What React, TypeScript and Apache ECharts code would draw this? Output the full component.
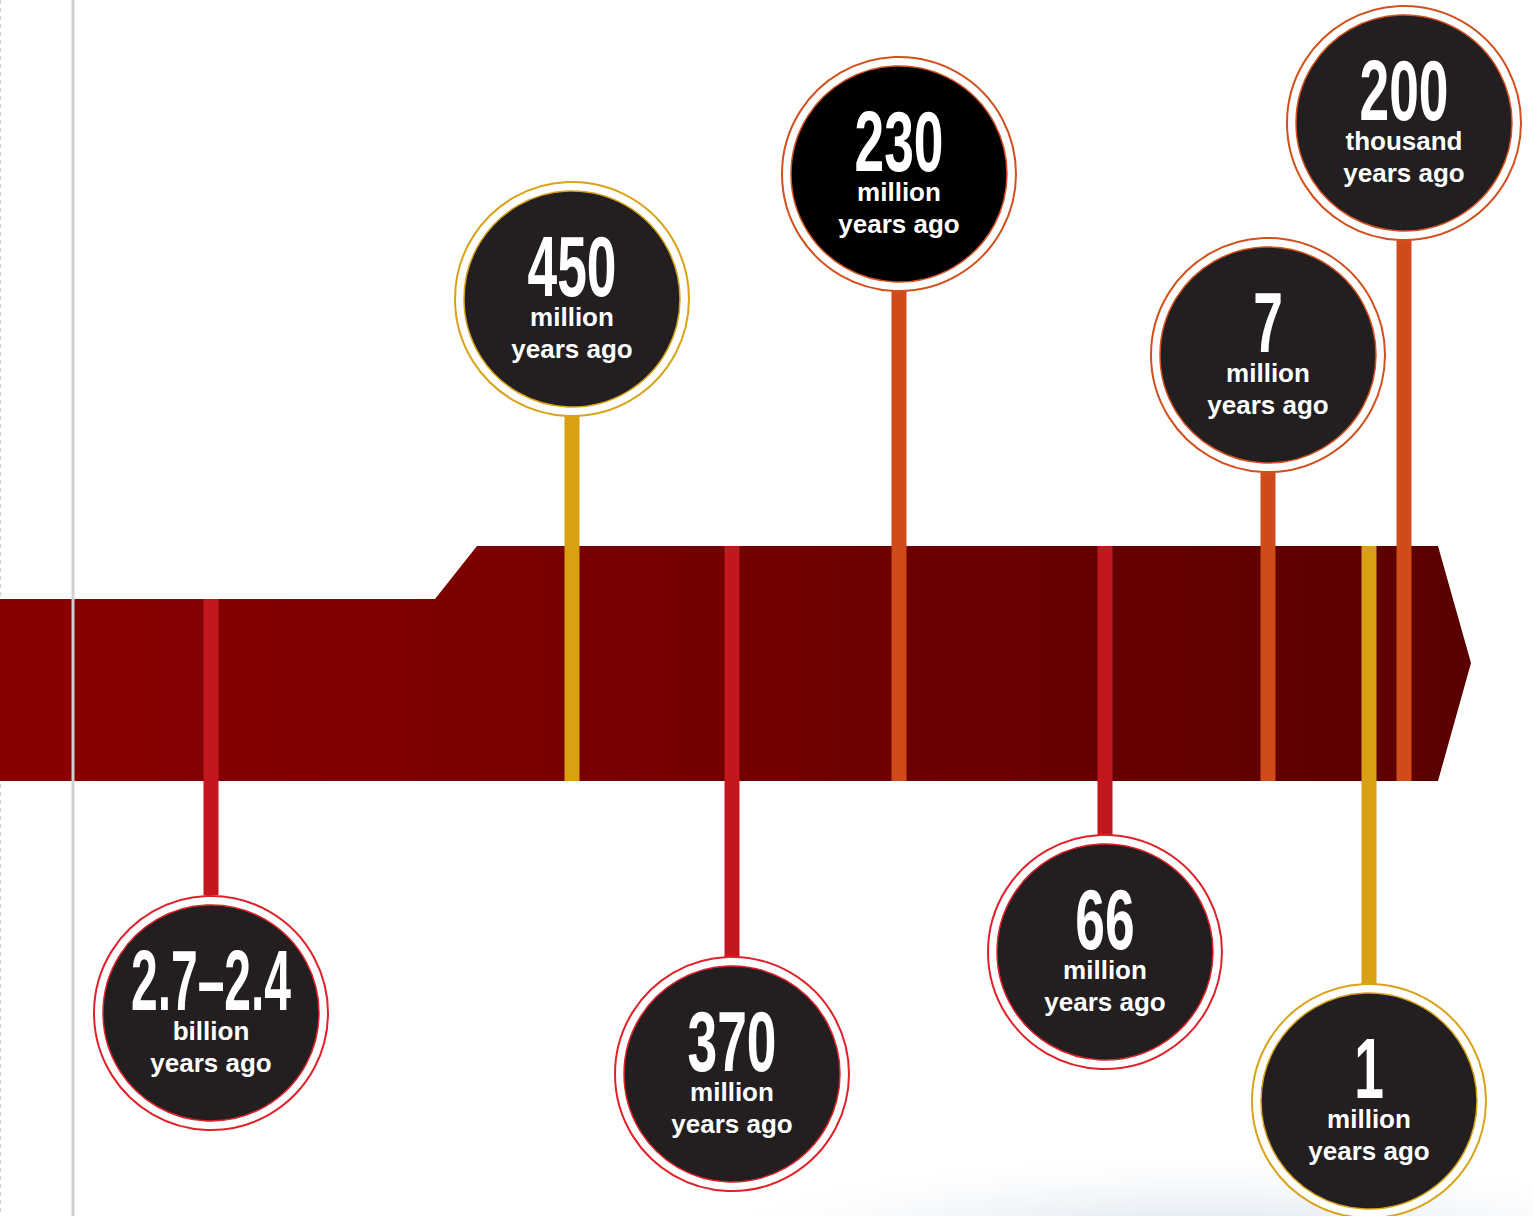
import React, { useEffect, useRef } from "react";
import * as echarts from "echarts";

// ---- data ----
const eventLabels = ["2.7–2.4", "450", "370", "230", "66", "7", "1", "200"];
const eventUnits = ["billion", "million", "million", "million", "million", "million", "million", "thousand"];
const eventX = [211, 572, 732, 899, 1105, 1268, 1369, 1404];
const circleY = [1013, 299, 1074, 174, 952, 355, 1101, 123];
const stemTop = [599, 416, 546, 291, 546, 471, 546, 240];
const stemBottom = [895, 781, 957, 781, 835, 781, 985, 781];
const eventTone = ["red", "gold", "red", "orange", "red", "orange", "gold", "orange"];
const barOutline = [
  [0, 599],
  [435, 599],
  [477, 546],
  [1438, 546],
  [1471, 663],
  [1438, 781],
  [0, 781],
];
const guideLineX = [73];

// ---- styles ----
const ringColor: Record<string, string> = { red: "#e0222a", gold: "#d9a31a", orange: "#d3511f" };
const stemColor: Record<string, string> = { red: "#c3161d", gold: "#d8a012", orange: "#cf4b1c" };
const W = 1534;
const H = 1216;
const OUTER_R = 117;
const INNER_R = 108;
const BIG_FONT = 86;
const BIG_FAMILY = '"Liberation Sans", Arial, sans-serif';

let measureCtx: CanvasRenderingContext2D | null = null;
function bigScale(text: string) {
  if (!measureCtx) measureCtx = document.createElement("canvas").getContext("2d");
  if (!measureCtx) return 0.62;
  measureCtx.font = `bold ${BIG_FONT}px ${BIG_FAMILY}`;
  const w = measureCtx.measureText(text).width;
  return Math.min(0.62, 160 / w);
}

export default function App() {
  const ref = useRef<HTMLDivElement>(null);
  useEffect(() => {
    if (!ref.current) return;
    const chart = echarts.init(ref.current, undefined, { renderer: "svg" });
    const option: any = {
      animation: false,
      backgroundColor: "#ffffff",
      grid: { left: 0, right: 0, top: 0, bottom: 0 },
      xAxis: { type: "value", min: 0, max: W, show: false },
      yAxis: { type: "value", min: 0, max: H, inverse: true, show: false },
      graphic: [
        {
          type: "line",
          z: 0,
          shape: { x1: 0.5, y1: 0, x2: 0.5, y2: H },
          style: { stroke: "#cfcfcf", lineWidth: 1, lineDash: [4, 4] },
        },
        {
          type: "ellipse",
          z: 0,
          shape: { cx: 1200, cy: 1245, rx: 480, ry: 85 },
          style: {
            fill: new echarts.graphic.RadialGradient(0.5, 0.5, 0.5, [
              { offset: 0, color: "rgba(200,216,232,0.85)" },
              { offset: 1, color: "rgba(230,238,245,0)" },
            ]),
          },
        },
      ],
      series: [
        {
          type: "custom",
          name: "timeline",
          z: 2,
          silent: true,
          data: [[0]],
          renderItem: (_p: any, api: any) => {
            const pts = barOutline.map((p) => api.coord(p));
            return {
              type: "polygon",
              shape: { points: pts },
              style: {
                fill: new echarts.graphic.LinearGradient(0, 0, 1, 0, [
                  { offset: 0, color: "#8a0000" },
                  { offset: 0.45, color: "#760000" },
                  { offset: 1, color: "#5a0000" },
                ]),
              },
            };
          },
        },
        {
          type: "custom",
          name: "stems",
          z: 3,
          silent: true,
          data: eventX.map((x, i) => [x, stemTop[i], stemBottom[i]]),
          renderItem: (p: any, api: any) => {
            const i = p.dataIndex;
            const top = api.coord([api.value(0), api.value(1)]);
            const bot = api.coord([api.value(0), api.value(2)]);
            const w = api.size([15, 0])[0];
            return {
              type: "rect",
              shape: { x: top[0] - w / 2, y: top[1], width: w, height: bot[1] - top[1] },
              style: { fill: stemColor[eventTone[i]] },
            };
          },
        },
        {
          type: "custom",
          name: "guide",
          z: 4,
          silent: true,
          data: guideLineX.map((x) => [x]),
          renderItem: (_p: any, api: any) => {
            const a = api.coord([api.value(0), 0]);
            const b = api.coord([api.value(0), H]);
            return {
              type: "rect",
              shape: { x: a[0] - 1.5, y: a[1], width: 3, height: b[1] - a[1] },
              style: { fill: "#d0d0d0" },
            };
          },
        },
        {
          type: "custom",
          name: "events",
          z: 5,
          silent: true,
          data: eventX.map((x, i) => [x, circleY[i]]),
          renderItem: (p: any, api: any) => {
            const i = p.dataIndex;
            const [cx, cy] = api.coord([api.value(0), api.value(1)]);
            const ro = api.size([OUTER_R, 0])[0];
            const ri = api.size([INNER_R, 0])[0];
            const ring = ringColor[eventTone[i]];
            const fill = eventLabels[i] === "230" ? "#000000" : "#231f20";
            const s = bigScale(eventLabels[i]);
            const small = {
              fontSize: 26,
              fontWeight: "bold",
              fontFamily: '"Liberation Sans", Arial, sans-serif',
              lineHeight: 30,
            };
            return {
              type: "group",
              children: [
                { type: "circle", shape: { cx, cy, r: ro }, style: { fill: "#ffffff", stroke: ring, lineWidth: 2 } },
                { type: "circle", shape: { cx, cy, r: ri }, style: { fill, stroke: ring, lineWidth: 1.5 } },
                {
                  type: "text",
                  x: cx,
                  y: cy - 33,
                  scaleX: s,
                  style: {
                    text: eventLabels[i],
                    x: 0,
                    y: 0,
                    fill: "#ffffff",
                    fontSize: BIG_FONT,
                    fontWeight: "bold",
                    fontFamily: BIG_FAMILY,
                    lineHeight: 62,
                    align: "center",
                    verticalAlign: "middle",
                  },
                },
                {
                  type: "text",
                  x: cx,
                  y: cy + 18,
                  style: { text: eventUnits[i], x: 0, y: 0, fill: "#ffffff", ...small, align: "center", verticalAlign: "middle" },
                },
                {
                  type: "text",
                  x: cx,
                  y: cy + 50,
                  style: { text: "years ago", x: 0, y: 0, fill: "#ffffff", ...small, align: "center", verticalAlign: "middle" },
                },
              ],
            };
          },
        },
      ],
    };
    chart.setOption(option);
    return () => chart.dispose();
  }, []);
  return (
    <div
      ref={ref}
      style={{ position: "fixed", left: 0, top: 0, width: W, height: H, background: "#fff" }}
    />
  );
}
